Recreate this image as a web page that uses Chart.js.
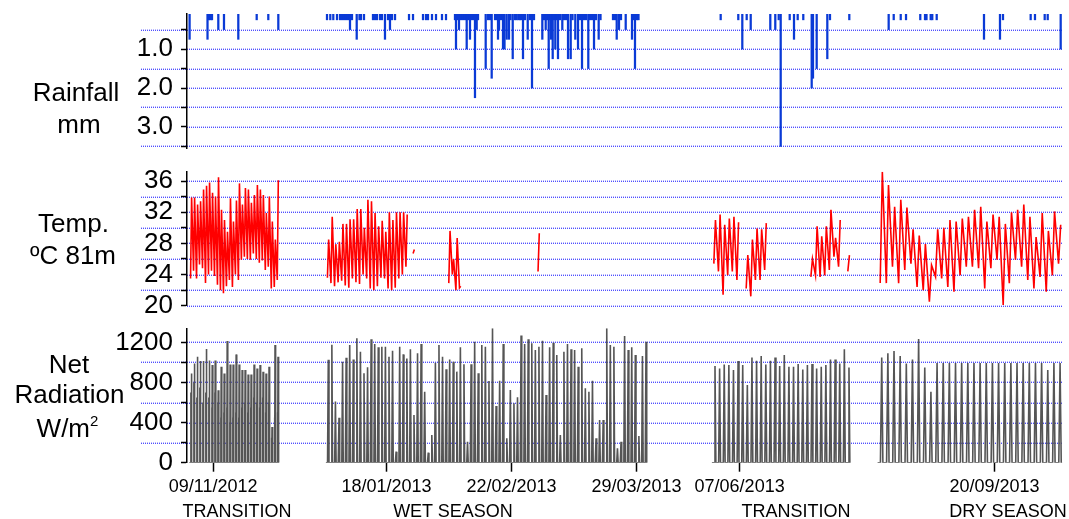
<!DOCTYPE html>
<html><head><meta charset="utf-8">
<script src="https://cdn.jsdelivr.net/npm/chart.js@4.4.1/dist/chart.umd.min.js"></script>
<style>
html,body{margin:0;padding:0;background:#fff;}
#wrap{position:relative;width:1069px;height:519px;overflow:hidden;font-family:'Liberation Sans',Arial,sans-serif;color:#000;}
canvas{position:absolute;left:0;top:0;}
.t{position:absolute;width:200px;text-align:center;font-size:26px;line-height:30px;white-space:nowrap;}
.s{position:absolute;width:200px;text-align:center;font-size:18px;line-height:20px;white-space:nowrap;}
</style></head><body>
<div id="wrap">
<canvas id="cRain" width="1069" height="519"></canvas>
<canvas id="cTemp" width="1069" height="519"></canvas>
<canvas id="cRad" width="1069" height="519"></canvas>
<div class="t" style="left:-24px;top:77px">Rainfall</div>
<div class="t" style="left:-21px;top:108.7px">mm</div>
<div class="t" style="left:-26.5px;top:208.3px">Temp.</div>
<div class="t" style="left:-27px;top:240.3px">ºC 81m</div>
<div class="t" style="left:-31px;top:348.7px">Net</div>
<div class="t" style="left:-30.5px;top:379.3px">Radiation</div>
<div class="t" style="left:-32.5px;top:413.3px">W/m<span style="font-size:15px;position:relative;top:-11px">2</span></div>
</div>
<script>
// ---- Broken time axis: four observation periods (axis units along the shared x axis)
const axisBreaks = [
  { start: '2012-11-01', days: 30, from: 2.3,   perDay: 2.99 },
  { start: '2013-01-01', days: 90, from: 138.9, perDay: 3.57 },
  { start: '2013-06-01', days: 30, from: 524.9, perDay: 4.62 },
  { start: '2013-09-01', days: 30, from: 690.6, perDay: 6.15 }
];
const axisMax = 876;

const xTickDates  = ['2012-11-09','2013-01-18','2013-02-22','2013-03-29','2013-06-07','2013-09-20'];
const xTickLabels = ['09/11/2012','18/01/2013','22/02/2013','29/03/2013','07/06/2013','20/09/2013'];
const seasonNames = ['TRANSITION','WET SEASON','TRANSITION','DRY SEASON'];
const seasonCenterDay = [16.0, 35.6, 18.2, 21.2];

// ---- Rainfall events: [day within period, mm]
const rainNov2012 = [[0.1,.75],[6.09,.75],[6.59,.25],[7.09,.25],[7.59,.25],[9.70,.5],[11.60,.5],[16.39,.75],[22.54,.25],[26.42,.25],[29.77,.5]];
const rainWet2013 = [[0.31,.25],[1.23,.25],[2.07,.25],[3.11,.25],[3.95,.25],[4.51,.25],[5.07,.25],[5.63,.25],[6.19,.25],[6.75,.5],[7.31,.25],[8.63,.75],[9.41,.25],[9.83,.25],[10.67,.25],[13.19,.25],[13.75,.25],[14.31,.25],[15.15,.25],[15.71,.25],[16.55,.75],[17.39,.25],[17.95,.5],[18.52,.25],[19.36,.25],[23.28,.25],[24.40,.25],[27.20,.25],[28.04,.25],[28.60,.25],[29.72,.25],[30.84,.25],[32.52,.25],[33.64,.25],
 [36.16,.25],[36.44,1.0],[37.00,.25],[37.28,.5],[37.84,.25],[38.40,.25],[38.96,.25],[39.44,1.0],[39.80,.25],[40.36,.75],[40.92,.25],[41.48,.25],[41.76,2.25],[42.24,.5],[42.61,.25],
 [44.76,1.5],[45.41,.25],[45.97,.25],[46.44,1.75],[47.37,.25],[47.93,.25],[48.21,.75],[48.49,.5],[49.05,.25],[49.61,1.0],[50.03,1.0],[50.64,.75],[51.29,.75],[51.71,.25],[52.33,1.25],[52.97,.25],[53.45,.25],[53.95,.25],[54.37,.25],[54.79,.25],[55.21,1.25],[55.77,.25],[56.53,.75],[57.17,.25],[57.73,2.0],[58.29,.25],
 [60.62,.75],[61.09,.25],[61.57,.5],[61.93,.25],[62.41,1.5],[62.77,.25],[63.05,.75],[63.53,1.25],[63.89,.25],[64.26,1.0],[64.59,.25],[65.01,1.25],[65.57,.25],[66.22,.5],[66.69,.25],[67.25,.25],[67.82,1.25],[68.57,1.25],[69.08,.25],[69.86,.75],[70.62,1.0],[71.18,.25],[71.74,1.5],[72.30,.25],[72.86,.25],[73.50,1.5],[73.98,.25],[74.54,.25],[75.10,1.0],[75.66,.25],[76.41,.75],[76.92,.25],
 [80.42,.25],[80.98,.25],[81.46,.75],[82.10,.5],[82.66,.25],[83.98,.5],[85.74,.75],[86.16,.25],[86.58,1.5],[87.14,.25],[87.56,.25]];
const rainJun2013 = [[1.90,.25],[5.71,.25],[6.58,1.0],[7.53,.25],[8.40,.5],[12.64,.5],[13.72,.5],[14.46,.25],[14.89,3.5],[16.84,.25],[17.77,.75],[18.57,.25],[19.78,.25],[21.60,2.0],[21.88,1.75],[22.68,1.5],[24.98,1.25],[25.56,.25],[29.74,.25]];
const rainSep2013 = [[1.80,.5],[2.62,.25],[3.76,.25],[4.62,.25],[6.94,.25],[7.71,.25],[7.95,.25],[8.63,.25],[8.89,.25],[9.61,.25],[17.30,.75],[19.90,.75],[20.39,.25],[24.89,.25],[25.59,.25],[27.17,.25],[27.66,.25],[29.77,1.0]];

// ---- Air temperature at 81 m, daily minimum / maximum (ºC), null = no data
const tempMinNov = [23.5,24.5,23.5,25.3,24.8,22.9,24.0,24.5,23.8,22.7,22.0,21.6,22.5,23.3,22.4,24.0,23.3,25.9,26.3,26.0,25.9,26.7,26.0,25.5,25.8,24.6,25.0,22.2,22.4,23.3];
const tempMaxNov = [33.9,33.9,33.0,33.4,34.9,35.4,35.8,34.5,34.0,36.5,32.3,31.0,29.5,33.8,30.8,33.5,35.7,33.0,35.1,34.9,33.2,34.2,35.5,34.9,34.2,31.9,34.0,30.8,28.5,36.1];
const tempMinWet = [23.6,22.9,22.5,23.0,23.2,22.6,22.3,23.5,23.0,22.8,24.0,23.5,22.2,22.0,22.5,23.6,23.5,22.2,22.0,22.3,23.5,24.0,25.0,
 null,26.7,null,null,null,null,null,null,null,null,null,
 22.9,24.0,22.0,22.3,
 null,null,null,null,null,null,null,null,null,null,null,null,null,null,null,null,null,null,null,null,null,
 24.4,
 null,null,null,null,null,null,null,null,null,null,null,null,null,null,null,null,null,null,null,null,null,null,null,null,null,null,null,null,null];
const tempMaxWet = [28.5,31.4,27.9,28.2,30.5,30.5,31.1,31.1,32.4,32.4,30.0,33.6,33.4,31.9,30.2,30.9,29.5,32.0,31.0,32.0,32.0,32.0,31.7,
 null,27.2,null,null,null,null,null,null,null,null,null,
 29.6,26.0,28.7,22.5,
 null,null,null,null,null,null,null,null,null,null,null,null,null,null,null,null,null,null,null,null,null,
 29.3,
 null,null,null,null,null,null,null,null,null,null,null,null,null,null,null,null,null,null,null,null,null,null,null,null,null,null,null,null,null];
const tempMinJun = [25.4,24.4,21.4,23.9,24.4,23.3,null,22.2,21.2,23.3,23.3,24.6,null,null,null,null,null,null,null,null,null,23.7,23.9,23.7,23.9,24.6,26.3,25.0,null,24.4];
const tempMaxJun = [31.0,31.7,30.4,31.2,31.4,30.7,null,26.5,28.5,29.9,29.8,30.6,null,null,null,null,null,null,null,null,null,26.0,30.2,28.9,30.2,32.3,28.7,31.0,null,26.5];
const tempMinSep = [22.9,22.9,25.0,22.9,24.6,25.4,22.4,22.0,20.5,23.7,23.5,22.4,21.8,23.9,25.0,25.0,24.8,22.2,24.8,25.9,20.1,22.9,25.9,25.0,23.3,22.2,23.7,21.8,23.9,25.4];
const tempMaxSep = [37.2,35.5,32.7,33.6,32.6,29.8,29.0,27.9,25.2,29.8,30.0,31.0,30.8,31.2,31.4,32.3,32.7,30.8,31.7,31.4,30.5,32.0,32.3,33.0,31.4,28.8,31.9,29.6,32.1,30.4];

// ---- Net radiation, daily peak (W/m2); Nov 2012 also a cloudy-morning secondary peak
const radNov = [890,990,1057,1013,1013,1133,1020,973,1020,723,957,890,1213,980,980,1080,980,923,923,880,880,980,940,973,907,890,957,357,1173,1057];
const radNovSecond = [700,800,650,750,600,700,650,550,700,600,450,500,550,400,450,500,450,550,600,500,550,650,600,550,650,500,600,250,450,500];
const radWet = [1027,1177,610,447,1007,1047,1173,1030,1240,1107,891,951,1230,1183,1150,1157,1157,1057,1117,110,1157,1080,1040,1130,475,1090,1183,708,100,275,997,1173,1057,931,1030,1007,908,1150,981,209,981,1207,891,1173,1157,814,1340,565,818,1183,243,725,592,652,1267,1183,1230,1190,1124,1157,1217,675,1150,1197,1074,276,1107,1183,1130,1124,957,1140,741,708,818,243,425,425,1340,1173,1157,143,209,1263,1124,1150,1074,266,1064,1207];
const radJun = [963,940,980,973,924,1013,973,774,1050,1017,1063,980,1017,1050,963,1073,957,957,983,930,973,983,940,957,973,1030,1030,990,1130,950];
const radSep = [1050,1090,1113,1063,990,1030,1233,950,708,995,995,995,995,995,995,995,995,995,995,995,995,995,995,995,995,995,995,924,995,995];

// ---- Axis ticks
const rainTicks = [0.5,1.0,1.5,2.0,2.5,3.0,3.5];
const rainTickLabels = ['','1.0','','2.0','','3.0',''];
const tempTicks = [20,22,24,26,28,30,32,34,36];
const tempTickLabels = ['20','','24','','28','','32','','36'];
const radTicks = [0,200,400,600,800,1000,1200];
const radTickLabels = ['0','','400','','800','','1200'];

// ---- time of day (fraction of day, UTC) used to place daily points
const T_MIN = 0.42, T_MAX = 0.77, T_RISE = 0.46, T_MORN = 0.54, T_GAP = 0.59, T_NOON = 0.67, T_SET = 0.86;

function toAxis(seg, t) { return seg.from + t * seg.perDay; }
function dateToAxis(s) {
  const d = Date.parse(s + 'T00:00:00Z');
  for (const seg of axisBreaks) {
    const t = (d - Date.parse(seg.start + 'T00:00:00Z')) / 86400000;
    if (t >= 0 && t <= seg.days) return toAxis(seg, t);
  }
  return null;
}

function rainPoints(seg, ev) { return ev.map(e => ({ x: toAxis(seg, e[0]), y: e[1] })); }
function tempPoints(seg, mins, maxs) {
  const pts = [];
  for (let d = 0; d < mins.length; d++) {
    if (mins[d] == null) { pts.push({ x: toAxis(seg, d + 0.5), y: null }); continue; }
    pts.push({ x: toAxis(seg, d + T_MIN), y: mins[d] });
    pts.push({ x: toAxis(seg, d + T_MAX), y: maxs[d] });
  }
  pts.push({ x: toAxis(seg, seg.days), y: null });
  return pts;
}
function radPoints(seg, peaks, second) {
  const pts = [{ x: toAxis(seg, 0), y: 0 }];
  for (let d = 0; d < peaks.length; d++) {
    pts.push({ x: toAxis(seg, d + T_RISE), y: 0 });
    if (second) {
      pts.push({ x: toAxis(seg, d + T_MORN), y: second[d] });
      pts.push({ x: toAxis(seg, d + T_GAP), y: 0 });
    }
    pts.push({ x: toAxis(seg, d + T_NOON), y: peaks[d] });
    pts.push({ x: toAxis(seg, d + T_SET), y: 0 });
  }
  pts.push({ x: toAxis(seg, seg.days), y: 0 });
  pts.push({ x: toAxis(seg, seg.days), y: null });
  return pts;
}

const rainData = [].concat(
  rainPoints(axisBreaks[0], rainNov2012), rainPoints(axisBreaks[1], rainWet2013),
  rainPoints(axisBreaks[2], rainJun2013), rainPoints(axisBreaks[3], rainSep2013));
const tempData = [].concat(
  tempPoints(axisBreaks[0], tempMinNov, tempMaxNov), tempPoints(axisBreaks[1], tempMinWet, tempMaxWet),
  tempPoints(axisBreaks[2], tempMinJun, tempMaxJun), tempPoints(axisBreaks[3], tempMinSep, tempMaxSep));
const radData = [].concat(
  radPoints(axisBreaks[0], radNov, radNovSecond), radPoints(axisBreaks[1], radWet),
  radPoints(axisBreaks[2], radJun), radPoints(axisBreaks[3], radSep));

// ---- styling
const FONT = "'Liberation Sans', Arial, sans-serif";
const GRID_DARK = 'rgb(80,80,255)';
const GRID_LIGHT = 'rgb(185,185,255)';

// dotted horizontal grid (minor lines run out under the panel title column)
const dottedGrid = {
  id: 'dottedGrid',
  beforeDraw(chart, args, opts) {
    const ys = chart.scales.y, a = chart.chartArea, ctx = chart.ctx;
    ctx.save();
    ys.ticks.forEach((tk, i) => {
      if (opts.skip && opts.skip.includes(tk.value)) return;
      const py = Math.round(ys.getPixelForValue(tk.value));
      const x0 = Math.round(opts.labels[i] === '' ? a.left - 46 : a.left);
      for (let x = x0; x < a.right; x += 2) {
        ctx.fillStyle = GRID_DARK;  ctx.fillRect(x, py, 1, 1);
        ctx.fillStyle = GRID_LIGHT; ctx.fillRect(x, py - 1, 1, 1);
      }
    });
    ctx.restore();
  }
};

function yScale(min, max, ticks, labels, reverse) {
  return {
    type: 'linear', position: 'left', min, max, reverse: !!reverse,
    afterBuildTicks: s => { s.ticks = ticks.map(v => ({ value: v })); },
    afterFit: s => { s.width = 187; s.paddingTop = 0; s.paddingBottom = 0; },
    ticks: { callback: (v, i) => labels[i], font: { family: FONT, size: 26 }, color: '#000', padding: 8, autoSkip: false },
    grid: { drawOnChartArea: false, drawTicks: true, tickLength: 6, tickColor: '#000', tickWidth: 1.5 },
    border: { display: true, color: '#000', width: 1.5 }
  };
}
function hiddenX() { return { type: 'linear', min: 0, max: axisMax, display: false, offset: false, grid: { offset: false } }; }

const common = {
  responsive: false, animation: false, devicePixelRatio: 1, events: [],
  plugins: { legend: { display: false }, tooltip: { enabled: false } }
};

new Chart(document.getElementById('cRain'), {
  type: 'bar',
  data: { datasets: [{ data: rainData, backgroundColor: '#0a3ad6', borderWidth: 0, barThickness: 1.6 }] },
  options: Object.assign({}, common, {
    layout: { padding: { left: 0, right: 6, top: 14, bottom: 519 - 148 } },
    scales: { x: hiddenX(), y: yScale(0.1, 3.54, rainTicks, rainTickLabels, true) },
    plugins: Object.assign({}, common.plugins, { dottedGrid: { labels: rainTickLabels } })
  }),
  plugins: [dottedGrid]
});

new Chart(document.getElementById('cTemp'), {
  type: 'line',
  data: { datasets: [{ data: tempData, borderColor: '#ff0000', borderWidth: 1.6, pointRadius: 0, tension: 0, spanGaps: false }] },
  options: Object.assign({}, common, {
    layout: { padding: { left: 0, right: 6, top: 171.7, bottom: 519 - 305.7 } },
    scales: { x: hiddenX(), y: yScale(20, 37.2, tempTicks, tempTickLabels) },
    plugins: Object.assign({}, common.plugins, { dottedGrid: { labels: tempTickLabels } })
  }),
  plugins: [dottedGrid]
});

const radChart = new Chart(document.getElementById('cRad'), {
  type: 'line',
  data: { datasets: [{ data: radData, borderColor: '#555555', borderWidth: 1.6, pointRadius: 0, tension: 0, spanGaps: false }] },
  options: Object.assign({}, common, {
    layout: { padding: { left: 0, right: 6, top: 328.3, bottom: 16.3 } },
    scales: {
      x: {
        type: 'linear', min: 0, max: axisMax, position: 'bottom', offset: false,
        afterBuildTicks: s => { s.ticks = xTickDates.map(d => ({ value: dateToAxis(d) })); },
        afterFit: s => { s.height = 40; s.paddingLeft = 0; s.paddingRight = 0; },
        ticks: { callback: (v, i) => xTickLabels[i], font: { family: FONT, size: 18 }, color: '#000', padding: 5, maxRotation: 0, autoSkip: false },
        grid: { drawOnChartArea: false, drawTicks: true, tickLength: 9, tickColor: '#000', tickWidth: 1.5 },
        border: { display: false }
      },
      y: yScale(0, 1340, radTicks, radTickLabels)
    },
    plugins: Object.assign({}, common.plugins, { dottedGrid: { labels: radTickLabels, skip: [0] } })
  }),
  plugins: [dottedGrid]
});

const wrap = document.getElementById('wrap');
seasonNames.forEach((name, i) => {
  const px = radChart.scales.x.getPixelForValue(toAxis(axisBreaks[i], seasonCenterDay[i]));
  const div = document.createElement('div');
  div.className = 's'; div.textContent = name;
  div.style.left = (px - 100) + 'px'; div.style.top = '501.2px';
  wrap.appendChild(div);
});
</script>
</body></html>
